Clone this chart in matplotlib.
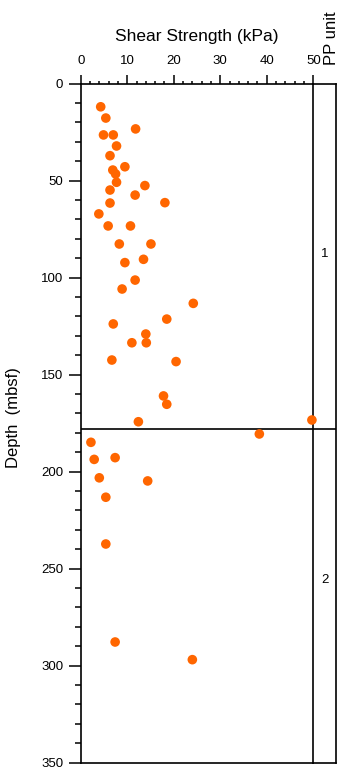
import matplotlib
matplotlib.use("Agg")
import matplotlib.pyplot as plt
from matplotlib.ticker import MultipleLocator

plt.rcParams['font.family'] = ['Liberation Sans', 'DejaVu Sans']

shear_kpa = [4.3, 5.4, 11.8, 4.9, 7.0, 7.7, 6.3, 9.5, 6.9, 7.5, 7.7, 13.8, 6.3, 11.7,
             18.1, 6.3, 3.9, 5.9, 10.7, 8.3, 15.1, 13.5, 9.5, 11.7, 8.9,
             24.2, 18.5, 7.0, 14.0, 11.0, 14.1, 6.7, 20.5, 17.8, 18.5, 12.4, 49.7,
             38.4, 2.2, 2.9, 7.4, 4.0, 14.4, 5.4, 5.4, 7.4, 24.0]
depth_mbsf = [12.0, 17.8, 23.4, 26.5, 26.5, 32.2, 37.2, 42.9, 44.6, 46.6, 50.9, 52.6, 54.9, 57.5,
              61.4, 61.6, 67.2, 73.4, 73.4, 82.7, 82.7, 90.6, 92.3, 101.3, 105.9,
              113.3, 121.4, 123.9, 129.1, 133.6, 133.6, 142.5, 143.3, 161.0, 165.3, 174.3, 173.4,
              180.6, 184.9, 193.7, 192.8, 203.2, 204.8, 213.2, 237.3, 287.8, 296.9]

unit_boundary = 178.2
unit_labels = ["1", "2"]
unit_label_depths = [88.0, 256.0]

W, H = 351, 770
fig = plt.figure(figsize=(W / 100, H / 100), dpi=100)

x0, x1 = 80.7, 313.3
y0, y1 = 83.5, 762.7
ax = fig.add_axes([x0 / W, 1 - y1 / H, (x1 - x0) / W, (y1 - y0) / H])
axu = fig.add_axes([x1 / W, 1 - y1 / H, (336.0 - x1) / W, (y1 - y0) / H])
axu.patch.set_visible(False)

ax.scatter(shear_kpa, depth_mbsf, s=48, color='#FF6600', edgecolors='none', zorder=3, clip_on=False)
ax.set_xlim(0, 50)
ax.set_ylim(350, 0)
ax.xaxis.set_major_locator(MultipleLocator(10))
ax.xaxis.set_minor_locator(MultipleLocator(2))
ax.yaxis.set_major_locator(MultipleLocator(50))
ax.yaxis.set_minor_locator(MultipleLocator(10))
ax.xaxis.tick_top()
ax.xaxis.set_label_position('top')
ax.tick_params(axis='y', which='major', direction='out', length=8.5, width=1.1, labelsize=9.5, pad=4)
ax.tick_params(axis='y', which='minor', direction='out', length=4.3, width=1.1)
ax.tick_params(axis='x', which='major', direction='out', length=6.2, width=1.1, labelsize=9.5, pad=5.5)
ax.tick_params(axis='x', which='minor', direction='out', length=2.5, width=1.1)
ax.tick_params(axis='y', which='both', right=False)
ax.tick_params(axis='x', which='both', bottom=False)
ax.set_xlabel('Shear Strength (kPa)', fontsize=12.5, labelpad=10)
ax.set_ylabel('Depth  (mbsf)', fontsize=12)
ax.yaxis.set_label_coords(-0.257, 0.5075)
ax.axhline(unit_boundary, color='black', lw=1.2, zorder=2)
for s in ax.spines.values():
    s.set_linewidth(1.2)

axu.set_xlim(0, 1)
axu.set_ylim(350, 0)
axu.set_xticks([])
axu.set_yticks([])
axu.spines['left'].set_visible(False)
for s in ['top', 'right', 'bottom']:
    axu.spines[s].set_linewidth(1.2)
axu.axhline(unit_boundary, color='black', lw=1.2)
for lab, d in zip(unit_labels, unit_label_depths):
    axu.text(0.5, d, lab, ha='center', va='center', fontsize=9.5)
axu.text(0.81, -9.5, 'PP unit', rotation=90, ha='center', va='bottom', fontsize=12)

fig.savefig('out.png', dpi=100)
